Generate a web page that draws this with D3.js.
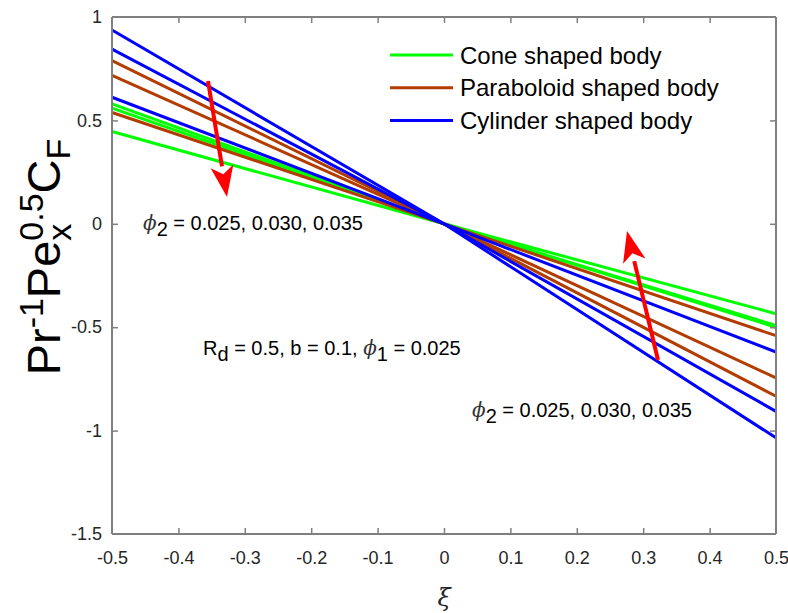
<!DOCTYPE html>
<html><head><meta charset="utf-8">
<script src="https://cdn.jsdelivr.net/npm/d3@7"></script>
<style>body{margin:0;background:#fff}svg{display:block;font-family:Arial,"Liberation Sans",sans-serif}</style>
</head><body><div id="chart"></div>
<script>
const xiValues = [-0.5, 0, 0.5];
const phi2Values = ["0.025", "0.030", "0.035"];
const coneSeries = [[0.580, 0, -0.500], [0.559, 0, -0.492], [0.446, 0, -0.435]];
const paraboloidSeries = [[0.789, 0, -0.834], [0.718, 0, -0.745], [0.538, 0, -0.541]];
const cylinderSeries = [[0.937, 0, -1.035], [0.845, 0, -0.907], [0.612, 0, -0.620]];
const legendLabels = ["Cone shaped body", "Paraboloid shaped body", "Cylinder shaped body"];
const colors = ["#00ff00", "#b33c00", "#0000ff"];
const xTicks = [-0.5, -0.4, -0.3, -0.2, -0.1, 0, 0.1, 0.2, 0.3, 0.4, 0.5];
const yTicks = [-1.5, -1, -0.5, 0, 0.5, 1];

const W = 788, H = 613;
const svg = d3.select("#chart").append("svg").attr("width", W).attr("height", H);
const L = 112, R = 776, T = 17, B = 534;
const x = d3.scaleLinear().domain([-0.5, 0.5]).range([L, R]);
const y = d3.scaleLinear().domain([-1.5, 1]).range([B, T]);

const axisColor = "#7f7f7f", textColor = "#262626";

// series lines
const groups = [coneSeries, paraboloidSeries, cylinderSeries];
const line = d3.line().x((d, i) => x(xiValues[i])).y(d => y(d));
const order = [];
groups.forEach((g, gi) => g.forEach(s => order.push({s, c: colors[gi]})));
svg.append("g").selectAll("path").data(order).join("path")
  .attr("d", d => line(d.s)).attr("fill", "none").attr("stroke", d => d.c).attr("stroke-width", 3);

// axes
const fmt = d => String(d);
const gx = svg.append("g").attr("transform", `translate(0,${B})`)
  .call(d3.axisBottom(x).tickValues(xTicks).tickSize(-6).tickPadding(17).tickFormat(fmt));
const gxt = svg.append("g").attr("transform", `translate(0,${T})`)
  .call(d3.axisTop(x).tickValues(xTicks).tickSize(-6).tickFormat(""));
const gy = svg.append("g").attr("transform", `translate(${L},0)`)
  .call(d3.axisLeft(y).tickValues(yTicks).tickSize(-6).tickPadding(10).tickFormat(fmt));
const gyr = svg.append("g").attr("transform", `translate(${R},0)`)
  .call(d3.axisRight(y).tickValues(yTicks).tickSize(-6).tickFormat(""));
[gx, gxt, gy, gyr].forEach(g => {
  g.selectAll(".domain").attr("stroke", axisColor).attr("stroke-width", 2);
  g.selectAll(".tick line").attr("stroke", axisColor).attr("stroke-width", 1.5);
  g.selectAll(".tick text").attr("fill", textColor).style("font-size", "18px").style("font-family", "Arial, 'Liberation Sans', sans-serif");
});
gx.selectAll(".tick line").filter(d => d === -0.5 || d === 0.5).remove();
gxt.selectAll(".tick line").filter(d => d === -0.5 || d === 0.5).remove();
gy.selectAll(".tick line").filter(d => d === -1.5 || d === 1).remove();
gyr.selectAll(".tick line").filter(d => d === -1.5 || d === 1).remove();
gx.select(".domain").attr("d", `M${L},0H${R}`);
gxt.select(".domain").attr("d", `M${L},0H${R}`);
gy.select(".domain").attr("d", `M0,${T}V${B}`);
gyr.select(".domain").attr("d", `M0,${T}V${B}`);

// x label
svg.append("text").attr("x", (L + R) / 2).attr("y", 606).attr("text-anchor", "middle")
  .attr("fill", textColor).style("font-family", "'DejaVu Serif', serif").style("font-style", "italic").style("font-size", "24px").text("ξ");

// y label
const M = 47, S = 34;
const yl = svg.append("text").attr("transform", `translate(60,257) rotate(-90)`).attr("text-anchor", "middle")
  .attr("fill", "#000").style("font-size", M + "px");
yl.append("tspan").text("Pr");
yl.append("tspan").attr("dy", -17).style("font-size", S + "px").text("-1");
yl.append("tspan").attr("dy", 17).text("Pe");
yl.append("tspan").attr("dy", 11).style("font-size", S + "px").text("x");
yl.append("tspan").attr("dx", -S * 0.5).attr("dy", -28).style("font-size", S + "px").text("0.5");
yl.append("tspan").attr("dy", 17).text("C");
yl.append("tspan").attr("dy", 10).style("font-size", S + "px").text("F");

// legend
const lg = svg.append("g");
legendLabels.forEach((t, i) => {
  const yy = 55 + i * 32.8;
  lg.append("line").attr("x1", 390).attr("x2", 453).attr("y1", yy).attr("y2", yy).attr("stroke", colors[i]).attr("stroke-width", 3);
  lg.append("text").attr("x", 460).attr("y", yy + 8.5).attr("fill", "#000").style("font-size", "24px").text(t);
});

// annotations
const AF = 20;
function phiText(xp, yp) {
  const t = svg.append("text").attr("x", xp).attr("y", yp).attr("fill", "#000").style("font-size", AF + "px");
  t.append("tspan").style("font-family", "'DejaVu Serif', serif").style("font-style", "italic").attr("fill", "#333").text("ϕ");
  t.append("tspan").attr("dy", 6).text("2");
  t.append("tspan").attr("dy", -6).text(" = " + phi2Values.join(", "));
}
phiText(143, 230);
phiText(472, 417);
const rt = svg.append("text").attr("x", 203).attr("y", 355).attr("fill", "#000").style("font-size", AF + "px");
rt.append("tspan").text("R");
rt.append("tspan").attr("dy", 6).text("d");
rt.append("tspan").attr("dy", -6).text(" = 0.5, b = 0.1, ");
rt.append("tspan").style("font-family", "'DejaVu Serif', serif").style("font-style", "italic").attr("fill", "#333").text("ϕ");
rt.append("tspan").attr("dy", 6).text("1");
rt.append("tspan").attr("dy", -6).text(" = 0.025");

// arrows
function arrow(x1, y1, x2, y2) {
  const ang = Math.atan2(y2 - y1, x2 - x1);
  const hl = 31, hw = 11.5;
  const bx = x2 - hl * Math.cos(ang), by = y2 - hl * Math.sin(ang);
  svg.append("line").attr("x1", x1).attr("y1", y1).attr("x2", bx).attr("y2", by).attr("stroke", "#ff0000").attr("stroke-width", 4);
  const nx = -Math.sin(ang), ny = Math.cos(ang);
  const back = 8;
  const ix = x2 - (hl - back) * Math.cos(ang), iy = y2 - (hl - back) * Math.sin(ang);
  svg.append("path").attr("d", `M${x2},${y2}L${bx + nx * hw},${by + ny * hw}L${ix},${iy}L${bx - nx * hw},${by - ny * hw}Z`).attr("fill", "#ff0000");
}
arrow(208, 81, 227, 197);
arrow(658, 360, 627, 231);
</script></body></html>
